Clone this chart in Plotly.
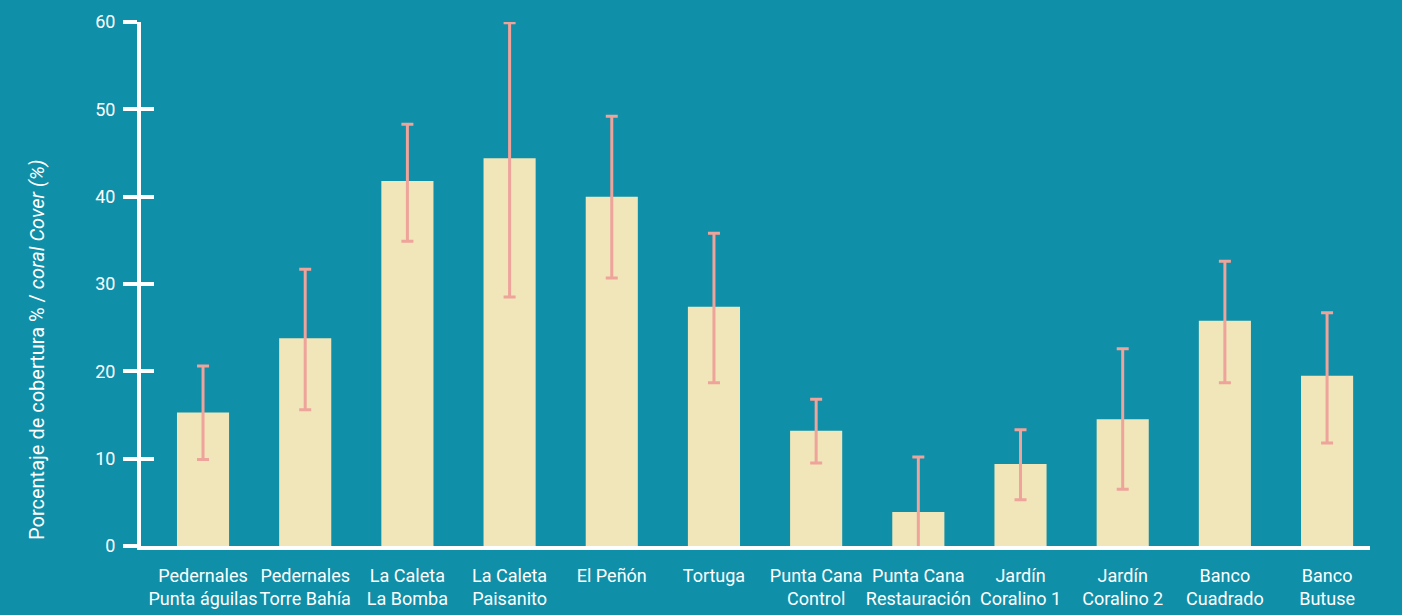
import plotly.graph_objects as go

sites = [
    "Pedernales<br>Punta águilas", "Pedernales<br>Torre Bahía", "La Caleta<br>La Bomba",
    "La Caleta<br>Paisanito", "El Peñón", "Tortuga", "Punta Cana<br>Control",
    "Punta Cana<br>Restauración", "Jardín<br>Coralino 1", "Jardín<br>Coralino 2",
    "Banco<br>Cuadrado", "Banco<br>Butuse",
]
cover = [15.3, 23.8, 41.8, 44.4, 40.0, 27.4, 13.2, 3.9, 9.4, 14.5, 25.8, 19.5]
err_upper = [20.6, 31.7, 48.3, 59.9, 49.2, 35.8, 16.8, 10.2, 13.3, 22.6, 32.6, 26.7]
err_lower = [9.9, 15.6, 34.9, 28.5, 30.7, 18.7, 9.5, -2.4, 5.3, 6.5, 18.7, 11.8]
y_ticks = [0, 10, 20, 30, 40, 50, 60]

BG = "#0f8fa8"
BAR = "#f0e6b9"
ERR = "#eea39b"
FONT = "Roboto, sans-serif"

x_pos = list(range(len(sites)))
plus = [u - c for u, c in zip(err_upper, cover)]
minus = [c - l for c, l in zip(cover, err_lower)]

fig = go.Figure()
fig.add_trace(go.Bar(
    x=x_pos, y=cover, width=0.51, marker=dict(color=BAR, line=dict(width=0)),
    error_y=dict(type="data", symmetric=False, array=plus, arrayminus=minus,
                 color=ERR, thickness=3, width=6),
    hoverinfo="skip", showlegend=False, cliponaxis=True,
))
fig.add_trace(go.Scatter(x=x_pos, y=cover, yaxis="y2", mode="none",
                         showlegend=False, hoverinfo="skip"))

fig.update_layout(
    width=1402, height=615,
    paper_bgcolor=BG, plot_bgcolor=BG,
    margin=dict(l=141, r=32, t=22, b=69, autoexpand=False),
    font=dict(family=FONT, color="white", size=18),
    xaxis=dict(
        range=[-0.607, 11.42], tickvals=x_pos, ticktext=sites, tickangle=0,
        showline=True, linecolor="white", linewidth=4, ticks="",
        showgrid=False, zeroline=False, tickfont=dict(size=18),
        ticklabelstandoff=10, automargin=False,
    ),
    yaxis=dict(
        range=[0, 60], tickvals=y_ticks, showline=True, linecolor="white",
        linewidth=4, ticks="outside", ticklen=14, tickwidth=4, tickcolor="white",
        showgrid=False, zeroline=False, ticklabelstandoff=4, tickfont=dict(size=18),
        automargin=False,
    ),
    yaxis2=dict(
        range=[0, 60], tickvals=y_ticks, overlaying="y", side="left",
        ticks="inside", ticklen=13, tickwidth=4, tickcolor="white",
        showticklabels=False, showline=False, showgrid=False, zeroline=False,
    ),
    annotations=[dict(
        text="Porcentaje de cobertura % / <i>coral Cover (%)</i>",
        textangle=-90, xref="paper", yref="paper",
        x=(37 - 141) / (1370 - 141), y=(546 - 350) / (546 - 22),
        xanchor="center", yanchor="middle", showarrow=False,
        font=dict(size=20, color="white"),
    )],
)

fig.write_html("out.html", config={"displayModeBar": False},
               post_script="document.body.style.margin='0';")
